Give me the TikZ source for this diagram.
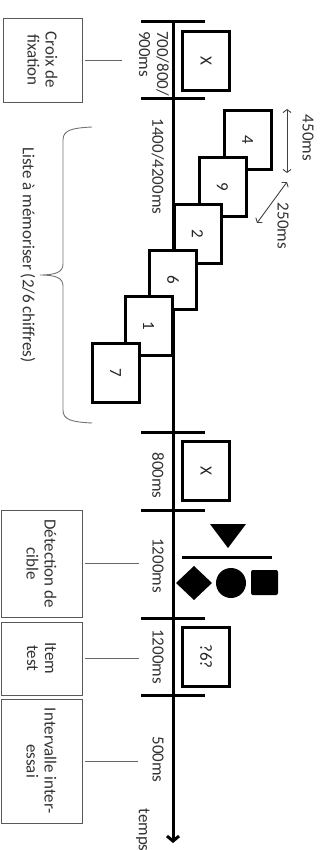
\documentclass[tikz,border=0pt]{standalone}
\usepackage{fontspec}
\setmainfont{Carlito}
\usetikzlibrary{arrows.meta,shapes.geometric}
\begin{document}
\begin{tikzpicture}[x=1pt,y=1pt,
  every node/.style={font=\fontsize{17}{18}\selectfont, text=black!80},
  lbl/.style={rotate=-90, inner sep=0pt},
  stim/.style={draw=black, line width=3pt, fill=white, rotate=-90, minimum width=59pt, minimum height=47pt, inner sep=0pt, text=black!85},
  side/.style={draw=black!65, line width=0.9pt, rotate=-90, align=center, inner sep=2pt},
  conn/.style={draw=black!60, line width=0.9pt},
  tickline/.style={line width=3pt},
  dur/.style={draw=black!75, line width=0.9pt, {Straight Barb[length=3pt,width=8pt]}-{Straight Barb[length=3pt,width=8pt]}},
]
\useasboundingbox (0,0) rectangle (324,-850);

% time axis
\coordinate (axtop) at (173,-22);
\coordinate (axend) at (173,-843);
\draw[line width=3pt,-{Straight Barb[length=5pt,width=12pt]}] (axtop) -- (axend);
\foreach \y in {22,99,432,510,618,695}
  \draw[tickline] (141,-\y) -- (205,-\y);

% fixation
\node[stim] (fix1) at (206,-61) {X};
\node[lbl, align=left] (t1) at (154,-63.5) {700/800/\\900ms};
\node[side, minimum width=84pt, minimum height=79pt] (croix) at (42.5,-60) {Croix de\\fixation};
\coordinate (c1) at (122,-60);
\draw[conn] ([xshift=3pt]croix.north) -- (c1);

% memory list
\node[stim] (d4) at (247.5,-140) {4};
\node[stim] (d9) at (222.5,-187) {9};
\node[stim] (d2) at (197.5,-234) {2};
\node[stim] (d6) at (173,-280) {6};
\node[stim] (d1) at (148.5,-326) {1};
\node[stim] (d7) at (115.5,-372.5) {7};
\node[lbl] (t2) at (158,-166.5) {1400/4200ms};

\coordinate (a1) at (287,-109);
\coordinate (a2) at (287,-173);
\draw[dur] (a1) -- (a2);
\node[lbl] (l450) at (308,-138) {450ms};
\coordinate (b1) at (287,-182);
\coordinate (b2) at (257,-223);
\draw[dur] (b1) -- (b2);
\node[lbl] (l250) at (283,-226) {250ms};

% brace
\draw[black!55, line width=0.9pt]
  (92,-127) .. controls (72,-128) and (63,-130) .. (63,-140)
  -- (63,-264) .. controls (63,-272) and (56,-275) .. (40,-275)
  .. controls (56,-275) and (63,-278) .. (63,-286)
  -- (63,-410) .. controls (63,-420) and (72,-422) .. (92,-423);
\node[lbl] (liste) at (28,-255) {Liste à mémoriser (2/6 chiffres)};

% second fixation
\node[stim] (fix2) at (206,-471) {X};
\node[lbl] (t3) at (158,-475.5) {800ms};

% detection
\fill (210,-524) -- (246,-524) -- (228,-548) -- cycle;
\draw[line width=3pt] (182,-557) -- (272,-557);
\fill (176,-583) -- (194,-566) -- (212,-583) -- (194,-600) -- cycle;
\fill (231,-583) circle (15);
\fill[rounded corners=2pt] (251,-570) rectangle (278,-595);
\node[lbl] (t4) at (158,-565.5) {1200ms};
\node[side, minimum width=107pt, minimum height=81pt] (detect) at (41.5,-563.5) {Détection de\\cible};
\coordinate (c2) at (139,-563.5);
\draw[conn] ([xshift=3pt]detect.north) -- (c2);

% item test
\node[stim] (probe) at (206,-656.5) {?6?};
\node[lbl] (t5) at (158,-656.5) {1200ms};
\node[side, minimum width=73pt, minimum height=81pt] (item) at (41.5,-658.5) {Item\\test};
\coordinate (c3) at (139,-658.5);
\draw[conn] ([xshift=3pt]item.north) -- (c3);

% inter-trial
\node[lbl] (t6) at (158,-759.5) {500ms};
\node[side, minimum width=124pt, minimum height=81pt] (iti) at (41.5,-761) {Intervalle inter-\\essai};
\coordinate (c4) at (138,-761);
\draw[conn] ([xshift=3pt]iti.north) -- (c4);

\node[lbl] (temps) at (143,-830) {temps};
\end{tikzpicture}
\end{document}
